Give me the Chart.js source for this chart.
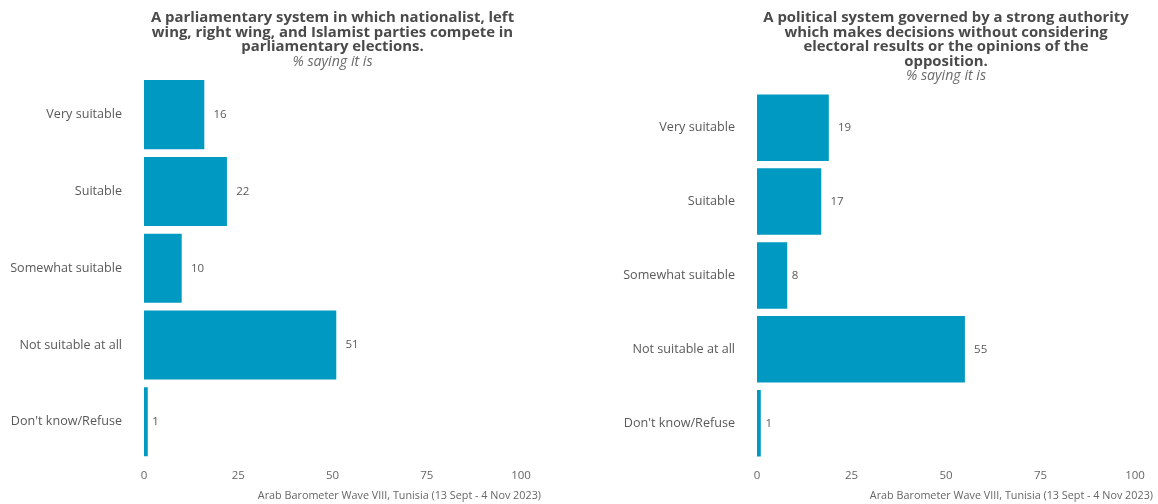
<!DOCTYPE html>
<html><head><meta charset="utf-8">
<script src="https://cdn.jsdelivr.net/npm/chart.js@4"></script>
<style>
body{margin:0;width:1158px;height:504px;overflow:hidden;background:#fff;position:relative}
.box{position:absolute;top:0;height:504px}
</style></head><body>
<div class="box" style="left:0;width:546px"><canvas id="c1"></canvas></div>
<div class="box" style="left:579px;width:579px"><canvas id="c2"></canvas></div>
<script>
const categories = ['Very suitable', 'Suitable', 'Somewhat suitable', 'Not suitable at all', "Don't know/Refuse"];
const parliamentaryValues = [16, 22, 10, 51, 1];
const strongAuthorityValues = [19, 17, 8, 55, 1];
const xTickValues = [0, 25, 50, 75, 100];
const leftTitle = ['A parliamentary system in which nationalist, left', 'wing, right wing, and Islamist parties compete in', 'parliamentary elections.'];
const rightTitle = ['A political system governed by a strong authority', 'which makes decisions without considering', 'electoral results or the opinions of the', 'opposition.'];
const subtitleText = '% saying it is';
const captionText = 'Arab Barometer Wave VIII, Tunisia (13 Sept - 4 Nov 2023)';

const FONT = "'Open Sans', 'Noto Sans', sans-serif";
const BAR = '#0099c1';

const extras = {
  id: 'extras',
  afterDatasetsDraw(chart) {
    const ctx = chart.ctx;
    const ds = chart.data.datasets[0];
    const meta = chart.getDatasetMeta(0);
    ctx.save();
    ctx.font = '11.5px ' + FONT;
    ctx.fillStyle = '#595959';
    ctx.textAlign = 'left';
    ctx.textBaseline = 'middle';
    meta.data.forEach((bar, i) => {
      const t = String(ds.data[i]);
      const w = ctx.measureText(t).width;
      ctx.fillText(t, bar.x + w * 0.7, bar.y);
    });
    ctx.font = '10.8px ' + FONT;
    ctx.fillStyle = '#666';
    ctx.textAlign = 'right';
    ctx.fillText(captionText, chart.width - 5, 496);
    ctx.restore();
  }
};

function makeChart(id, values, title, yWidth, rightPad) {
  return new Chart(document.getElementById(id), {
    type: 'bar',
    data: { labels: categories, datasets: [{ data: values, backgroundColor: BAR, borderWidth: 0, barPercentage: 0.9, categoryPercentage: 1 }] },
    plugins: [extras],
    options: {
      indexAxis: 'y',
      responsive: true,
      maintainAspectRatio: false,
      animation: false,
      layout: { padding: { left: 0, right: rightPad, top: 0, bottom: 12 } },
      plugins: {
        legend: { display: false },
        tooltip: { enabled: false },
        title: { display: true, text: title, fullSize: false, color: '#4a4a4a',
          font: { family: FONT, size: 14.9, weight: 'bold', lineHeight: '14.5px' }, padding: { top: 11, bottom: 0 } },
        subtitle: { display: true, text: subtitleText, fullSize: false, color: '#6b6b6b',
          font: { family: FONT, size: 14.2, style: 'italic', lineHeight: '14px' }, padding: { top: 0, bottom: 7.75 } }
      },
      scales: {
        x: { min: 0, max: 100, afterBuildTicks: s => { s.ticks = xTickValues.map(v => ({ value: v })); },
          grid: { display: false, drawTicks: false }, border: { display: false },
          ticks: { color: '#666', font: { family: FONT, size: 11.5 }, padding: 9 } },
        y: { grid: { display: false, drawTicks: false }, border: { display: false },
          afterFit: s => { s.width = yWidth; },
          ticks: { color: '#595959', font: { family: FONT, size: 12.6 }, padding: 22 } }
      }
    }
  });
}
makeChart('c1', parliamentaryValues, leftTitle, 144, 25);
makeChart('c2', strongAuthorityValues, rightTitle, 178, 23);
</script>
</body></html>
